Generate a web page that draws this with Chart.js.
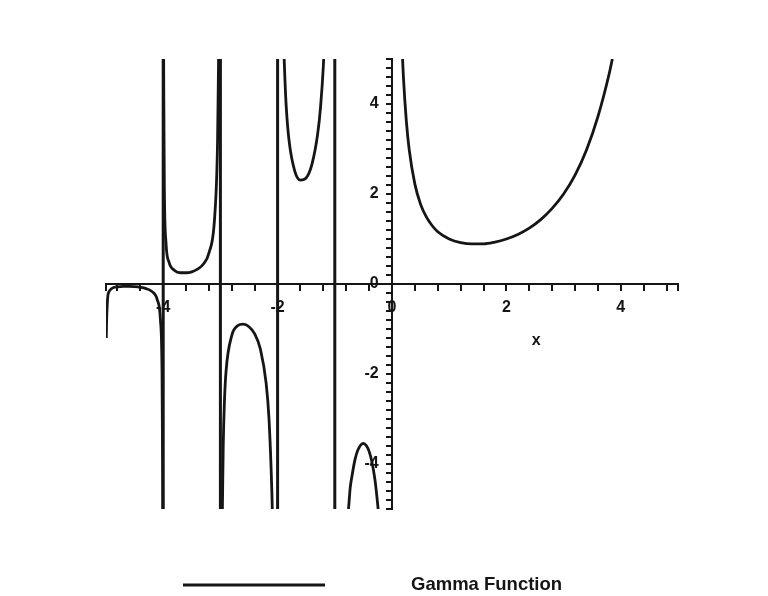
<!DOCTYPE html>
<html>
<head>
<meta charset="utf-8">
<title>Gamma Function</title>
<script src="https://cdn.jsdelivr.net/npm/chart.js@4.4.1/dist/chart.umd.min.js"></script>
<style>
  body { margin: 0; background: #ffffff; }
  #wrap { position: relative; width: 768px; height: 596px; }
</style>
</head>
<body>
<div id="wrap"><canvas id="gammaChart"></canvas></div>
<script>
'use strict';

// **************************** DATA ****************************

let seriesName = 'Gamma Function';
let axisTitle = 'x';

// x positions, branches split by null in gammaY
let gammaX = [
  -4.995, -4.99, -4.97, -4.95, -4.9, -4.8, -4.7, -4.6, -4.5, -4.4, -4.3, -4.2, -4.1, -4.05, -4.02, -4.01, -4.008,
  -4,
  -3.992, -3.99, -3.98, -3.95, -3.9, -3.8, -3.7, -3.6, -3.5, -3.4, -3.3, -3.2, -3.1, -3.05, -3.032,
  -3,
  -2.965, -2.95, -2.93, -2.9, -2.8, -2.7, -2.6, -2.5, -2.4, -2.3, -2.2, -2.15, -2.1, -2.093,
  -2,
  -1.885, -1.87, -1.85, -1.8, -1.7, -1.6, -1.5, -1.4, -1.3, -1.25, -1.2, -1.195,
  -1,
  -0.76, -0.73, -0.7, -0.65, -0.6, -0.5, -0.45, -0.4, -0.35, -0.3, -0.25, -0.243,
  0,
  0.185, 0.2, 0.25, 0.3, 0.4, 0.5, 0.6, 0.7, 0.8, 1, 1.2, 1.4, 1.6, 1.8, 2, 2.2, 2.4, 2.6, 2.8, 3, 3.2, 3.4, 3.6, 3.8, 3.852
];

let gammaY = [
  -1.2, -0.85, -0.29, -0.18, -0.1, -0.062, -0.054, -0.054, -0.06, -0.074, -0.102, -0.164, -0.364, -0.776, -2.02, -4.1, -5,
  null,
  5, 4.23, 2.15, 0.9, 0.49, 0.3, 0.25, 0.25, 0.27, 0.33, 0.44, 0.69, 1.49, 3.14, 5,
  null,
  -5, -3.56, -2.63, -1.92, -1.14, -0.93, -0.89, -0.95, -1.11, -1.45, -2.21, -3.0, -4.63, -5,
  null,
  5, 4.49, 3.96, 3.19, 2.51, 2.31, 2.36, 2.66, 3.33, 3.92, 4.85, 5,
  null,
  -5, -4.52, -4.27, -3.92, -3.7, -3.54, -3.59, -3.72, -3.96, -4.33, -4.9, -5,
  null,
  5, 4.59, 3.63, 2.99, 2.22, 1.77, 1.49, 1.3, 1.16, 1, 0.92, 0.89, 0.89, 0.93, 1, 1.1, 1.24, 1.43, 1.68, 2, 2.42, 2.98, 3.72, 4.69, 5
];

// vertical jumps drawn at the poles
let poleX = [-4, -3, -2, -1];

let xRange = [-5, 5];
let yRange = [-5, 5];
let xLabelValues = [-4, -2, 0, 2, 4];
let yLabelValues = [-4, -2, 0, 2, 4];
let xTickStep = 0.4;
let yTickStep = 0.2;

// **************************** STYLE ****************************

let inkColor = '#151515';
let tickFont = { family: '"Liberation Sans", Arial, sans-serif', size: 16, weight: 'bold' };

// **************************** BUILD POINTS ****************************

let curvePoints = [];
for (let i = 0; i < gammaX.length; i++) {
  curvePoints.push({ x: gammaX[i], y: gammaY[i] });
}

let polePoints = [];
for (let i = 0; i < poleX.length; i++) {
  polePoints.push({ x: poleX[i], y: yRange[0] });
  polePoints.push({ x: poleX[i], y: yRange[1] });
  polePoints.push({ x: poleX[i], y: null });
}

// minor ticks counted out from zero, plus the two ends of the axis
function buildTicks(range, step) {
  let list = [{ value: range[0] }];
  let first = Math.ceil(range[0] / step + 1e-9);
  let last = Math.floor(range[1] / step - 1e-9);
  for (let k = first; k <= last; k++) {
    list.push({ value: Math.round(k * step * 1000) / 1000 });
  }
  list.push({ value: range[1] });
  return list;
}

function tickLabel(value, list) {
  let v = Math.round(value * 10) / 10;
  return list.includes(v) ? String(v) : '';
}

// **************************** PLUGIN: LEGEND + AXIS TITLE ****************************

let gammaExtras = {
  id: 'gammaExtras',
  afterDraw(chart) {
    let c = chart.ctx;
    c.save();
    c.strokeStyle = inkColor;
    c.lineWidth = 3;
    c.beginPath();
    c.moveTo(183, 585);
    c.lineTo(325, 585);
    c.stroke();

    c.fillStyle = inkColor;
    c.font = 'bold 18.5px "Liberation Sans", Arial, sans-serif';
    c.textAlign = 'left';
    c.textBaseline = 'alphabetic';
    c.fillText(seriesName, 411, 590);

    // axis title sits under the right half of the x axis
    let tx = chart.scales.x.getPixelForValue(2.52);
    let ty = chart.scales.y.getPixelForValue(-1.25);
    c.font = 'bold 16px "Liberation Sans", Arial, sans-serif';
    c.textAlign = 'center';
    c.textBaseline = 'middle';
    c.fillText(axisTitle, tx, ty);
    c.restore();
  }
};

// **************************** CREATE CHART ****************************

let ctx = document.getElementById('gammaChart');

let gammaChartObj = {
  type: 'line',
  data: {
    datasets: [{
      label: seriesName,
      data: curvePoints,
      borderColor: inkColor,
      borderWidth: 2.8,
      pointRadius: 0,
      fill: false,
      spanGaps: false,
      cubicInterpolationMode: 'monotone'
    },
    {
      label: 'poles',
      data: polePoints,
      borderColor: inkColor,
      borderWidth: 3,
      pointRadius: 0,
      fill: false,
      spanGaps: false,
      tension: 0
    }]
  },
  options: {
    responsive: true,
    maintainAspectRatio: false,
    animation: false,
    layout: {
      padding: { left: 106, right: 90, top: 59, bottom: 87 }
    },
    plugins: {
      legend: { display: false },
      tooltip: { enabled: false }
    },
    scales: {
      x: {
        type: 'linear',
        min: xRange[0],
        max: xRange[1],
        position: { y: 0 },
        afterBuildTicks: (scale) => { scale.ticks = buildTicks(xRange, xTickStep); },
        grid: { drawOnChartArea: false, drawTicks: true, tickLength: 6, color: inkColor, lineWidth: 2 },
        border: { display: true, color: inkColor, width: 2 },
        ticks: {
          autoSkip: false,
          maxRotation: 0,
          padding: 8,
          color: inkColor,
          font: tickFont,
          callback: (value) => tickLabel(value, xLabelValues)
        }
      },
      y: {
        type: 'linear',
        min: yRange[0],
        max: yRange[1],
        position: { x: 0 },
        afterBuildTicks: (scale) => { scale.ticks = buildTicks(yRange, yTickStep); },
        grid: { drawOnChartArea: false, drawTicks: true, tickLength: 5, color: inkColor, lineWidth: 2 },
        border: { display: true, color: inkColor, width: 2 },
        ticks: {
          autoSkip: false,
          color: inkColor,
          font: tickFont,
          // labels of a centred axis are anchored on the axis line, so pad them clear of it
          callback: (value) => {
            let text = tickLabel(value, yLabelValues);
            return text ? text + '   ' : '';
          }
        }
      }
    }
  },
  plugins: [gammaExtras]
};

new Chart(ctx, gammaChartObj);
</script>
</body>
</html>
